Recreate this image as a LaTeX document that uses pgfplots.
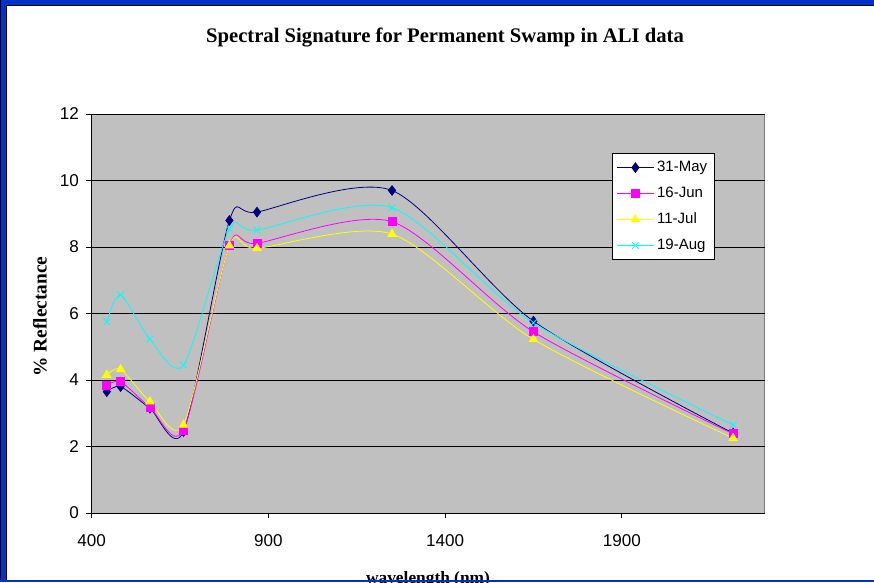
\documentclass[border=0pt]{standalone}
\usepackage{fontspec}
\setmainfont{Liberation Serif}
\newfontfamily\arial{Liberation Sans}
\usepackage{pgfplots}
\pgfplotsset{compat=1.18}

\definecolor{winblue}{RGB}{0,51,204}
\definecolor{plotgray}{RGB}{192,192,192}
\definecolor{xlnavy}{RGB}{0,0,128}
\definecolor{xlpink}{RGB}{255,0,255}
\definecolor{xlyellow}{RGB}{255,255,0}
\definecolor{xlcyan}{RGB}{0,255,255}

\begin{document}
\begin{tikzpicture}
  \useasboundingbox (0,0) rectangle (655.5pt,-436.5pt);
  \fill[white] (0,0) rectangle (655.5pt,-436.5pt);

  \begin{axis}[
    at={(68.7pt,-384.75pt)}, anchor=south west,
    scale only axis, width=505pt, height=299.25pt,
    xmin=400, xmax=2305, ymin=0, ymax=12,
    xtick={400,900,1400,1900}, ytick={0,2,...,12},
    axis lines*=left,
    axis line style={black, line width=0.75pt},
    axis background/.style={fill=plotgray, draw=gray, line width=0.75pt},
    ymajorgrids, grid style={black, line width=0.75pt},
    tick align=outside, major tick length=4pt,
    tick style={black, line width=0.75pt},
    /pgf/number format/assume math mode=true,
    /pgf/number format/1000 sep={},
    tick label style={font=\arial\fontsize{12.8}{15}\selectfont},
    xticklabel style={yshift=-9pt},
    yticklabel style={xshift=-2pt},
    legend style={at={(0.773,0.902)}, anchor=north west, draw=black, fill=white,
      font=\arial\fontsize{11.25}{13}\selectfont, row sep=6pt,
      inner xsep=3pt, inner ysep=4pt},
    legend cell align=left,
    legend image code/.code={\draw[mark repeat=2,mark phase=2]
      plot coordinates {(0pt,0pt) (14pt,0pt) (28pt,0pt)};},
    every axis plot/.append style={line width=0.6pt, smooth, tension=0.45},
  ]
    \addplot[color=xlnavy, mark=diamond*, mark size=3.6pt,
      mark options={fill=xlnavy}] coordinates {
      (443,3.65) (482,3.80) (565,3.15) (660,2.45) (790,8.80)
      (868,9.05) (1250,9.70) (1650,5.77) (2215,2.40)};
    \addlegendentry{31-May}
    \addplot[color=xlpink, mark=square*, mark size=3pt,
      mark options={fill=xlpink}] coordinates {
      (443,3.83) (482,3.95) (565,3.18) (660,2.48) (790,8.06)
      (868,8.11) (1250,8.76) (1650,5.45) (2215,2.38)};
    \addlegendentry{16-Jun}
    \addplot[color=xlyellow, mark=triangle*, mark size=3.6pt,
      mark options={fill=xlyellow}] coordinates {
      (443,4.15) (482,4.32) (565,3.35) (660,2.65) (790,8.04)
      (868,7.96) (1250,8.39) (1650,5.22) (2215,2.25)};
    \addlegendentry{11-Jul}
    \addplot[color=xlcyan, mark=x, mark size=3.6pt] coordinates {
      (443,5.75) (482,6.56) (565,5.23) (660,4.45) (790,8.54)
      (868,8.51) (1250,9.18) (1650,5.72) (2215,2.65)};
    \addlegendentry{19-Aug}
  \end{axis}

  \node[font=\bfseries\fontsize{15.5}{18}\selectfont] at (333.75pt,-28.5pt)
    {Spectral Signature for Permanent Swamp in ALI data};
  \node[font=\bfseries\fontsize{14.5}{16}\selectfont, rotate=90] at (30pt,-237.4pt)
    {\% Reflectance};
  \node[font=\bfseries\fontsize{13}{15}\selectfont, anchor=north, inner sep=0pt]
    at (321pt,-428.25pt) {wavelength (nm)};

  % window frame
  \fill[winblue] (0,0) rectangle (655.5pt,-3.75pt);
  \draw[black, line width=0.75pt] (4.5pt,-3.75pt) -- (655.5pt,-3.75pt);
  \fill[winblue] (0,0) rectangle (4.5pt,-436.5pt);
  \draw[black, line width=0.75pt] (0.4pt,0) -- (0.4pt,-436.5pt);
  \draw[black, line width=0.75pt] (4.9pt,-3.75pt) -- (4.9pt,-436.5pt);
  \fill[winblue] (0,-435pt) rectangle (655.5pt,-436.5pt);
\end{tikzpicture}
\end{document}
